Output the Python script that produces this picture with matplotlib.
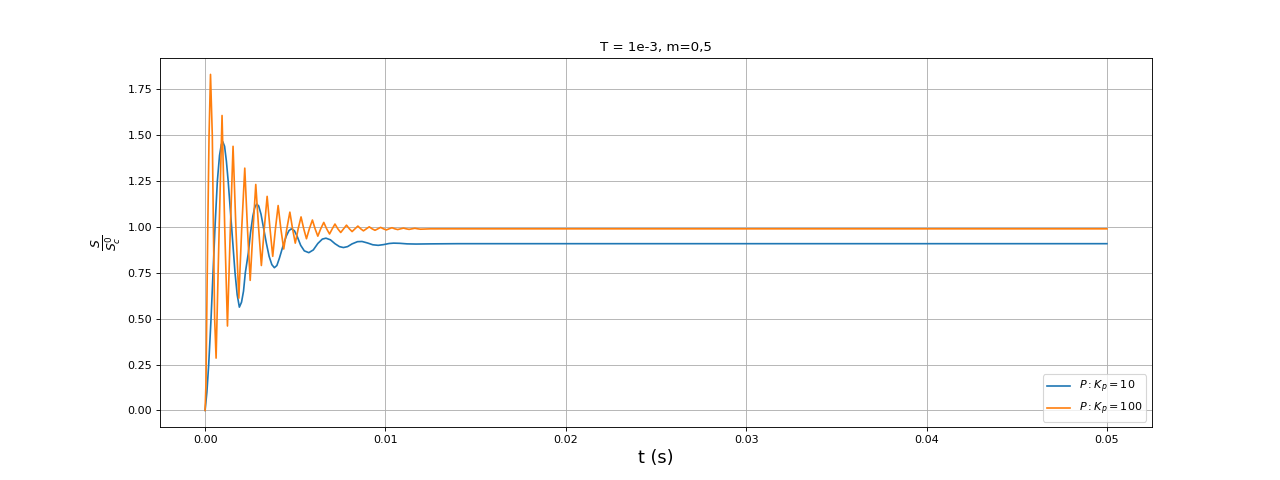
import matplotlib
matplotlib.use('Agg')
import matplotlib.pyplot as plt

# values (time in ms, response S/Sc0)
t_kp10 = [0, 0.1, 0.2, 0.33, 0.44, 0.55, 0.68, 0.8, 0.9, 0.98, 1.08, 1.18, 1.28,
          1.47, 1.66, 1.78, 1.9, 2.02, 2.13, 2.23, 2.4, 2.52, 2.65, 2.75, 2.86,
          2.97, 3.1, 3.25, 3.4, 3.55, 3.7, 3.84, 3.98, 4.12, 4.3, 4.5, 4.65, 4.78,
          4.95, 5.1, 5.3, 5.5, 5.75, 6.0, 6.25, 6.5, 6.7, 6.95, 7.2, 7.45, 7.67,
          7.9, 8.15, 8.45, 8.7, 9.0, 9.3, 9.6, 9.9, 10.2, 10.45, 10.8, 11.2,
          11.7, 12.5, 14, 50]
s_kp10 = [0, 0.1, 0.25, 0.5, 0.75, 1.0, 1.25, 1.39, 1.45, 1.465, 1.44, 1.36, 1.25,
          1.0, 0.75, 0.63, 0.563, 0.59, 0.65, 0.75, 0.86, 0.97, 1.06, 1.105, 1.125,
          1.115, 1.07, 0.99, 0.91, 0.84, 0.795, 0.778, 0.79, 0.83, 0.89, 0.95, 0.98, 0.99,
          0.98, 0.95, 0.9, 0.87, 0.86, 0.875, 0.91, 0.934, 0.939, 0.93, 0.909, 0.893, 0.888,
          0.893, 0.908, 0.92, 0.921, 0.913, 0.903, 0.9, 0.904, 0.91, 0.912, 0.911, 0.908,
          0.907, 0.908, 0.909, 0.909]

t_kp100 = [0, 0.05, 0.09, 0.15, 0.22, 0.3, 0.4, 0.46, 0.53, 0.61,
           0.78, 0.94, 1.09, 1.24, 1.4, 1.55, 1.71, 1.87, 2.03, 2.2, 2.35, 2.5,
           2.66, 2.81, 2.97, 3.12, 3.28, 3.44, 3.6, 3.75, 3.9, 4.05, 4.2, 4.36,
           4.53, 4.7, 4.85, 5.0, 5.16, 5.32, 5.47, 5.62, 5.78, 5.95, 6.1, 6.25,
           6.41, 6.58, 6.74, 6.9, 7.05, 7.2, 7.36, 7.52, 7.68, 7.84, 8.0, 8.15,
           8.31, 8.47, 8.63, 8.78, 8.94, 9.1, 9.26, 9.42, 9.58, 9.73, 9.89, 10.05,
           10.2, 10.36, 10.52, 10.68, 10.84, 11.0, 11.15, 11.31, 11.47, 11.63,
           11.79, 11.94, 12.5, 13, 50]
s_kp100 = [0, 0.15, 0.5, 1.0, 1.5, 1.832, 1.5, 1.0, 0.5, 0.285,
           0.99, 1.608, 0.99, 0.46, 0.99, 1.44, 0.99, 0.612, 0.99, 1.321, 0.99, 0.709,
           0.99, 1.232, 0.99, 0.79, 0.99, 1.167, 0.99, 0.84, 0.99, 1.117, 0.99, 0.88,
           0.99, 1.081, 0.99, 0.912, 0.99, 1.055, 0.99, 0.936, 0.99, 1.038, 0.99, 0.95,
           0.99, 1.025, 0.99, 0.962, 0.99, 1.016, 0.99, 0.97, 0.99, 1.01, 0.99, 0.975,
           0.99, 1.005, 0.99, 0.979, 0.99, 1.001, 0.99, 0.982, 0.99, 0.998, 0.99, 0.984,
           0.99, 0.996, 0.99, 0.986, 0.99, 0.994, 0.99, 0.987, 0.99, 0.993,
           0.99, 0.988, 0.99, 0.99, 0.99]

labels = [r'$P: K_p = 10$', r'$P: K_p = 100$']

# 16x6 inches at 80 dpi -> 1280x480
fig = plt.figure(figsize=(16, 6), dpi=80)
ax = fig.add_subplot(111)

ax.plot([t / 1000 for t in t_kp10], s_kp10, label=labels[0])
ax.plot([t / 1000 for t in t_kp100], s_kp100, label=labels[1])

ax.set_title('T = 1e-3, m=0,5')
ax.set_xlabel('t (s)', fontsize=16)
ax.set_ylabel(r'$\frac{S}{S_c^0}$', fontsize=16)
ax.grid(True)
ax.legend(loc='lower right')

fig.savefig('out.png', dpi=80)
